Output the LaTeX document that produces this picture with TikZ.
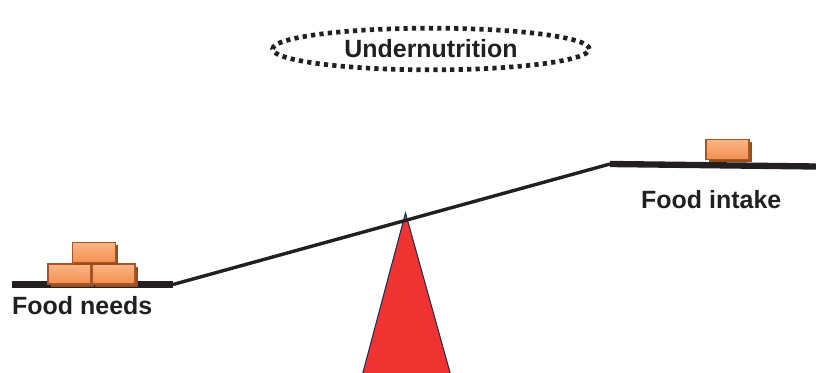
\documentclass[tikz,border=0pt]{standalone}
\usepackage{fontspec}
\setmainfont{Liberation Sans}
\definecolor{brickfill}{RGB}{243,143,80}
\definecolor{brickhi}{RGB}{250,182,134}
\definecolor{brickedge}{RGB}{168,84,36}
\definecolor{brickshade}{RGB}{150,78,30}
\definecolor{fulcrum}{RGB}{238,51,48}
\definecolor{fulcrumedge}{RGB}{28,48,92}
\definecolor{ink}{RGB}{35,31,32}
\usetikzlibrary{shapes.geometric,shadows,positioning}

\tikzset{
  brick/.style={draw=brickedge,line width=1pt,top color=brickhi,bottom color=brickfill,
    minimum width=1.29cm,minimum height=0.6cm,inner sep=0pt,outer sep=0pt,
    general shadow={fill=brickshade,shadow xshift=2.2pt,shadow yshift=-2.2pt}},
  caption/.style={font=\bfseries\fontsize{21.3}{25}\selectfont,text=ink,inner sep=0pt},
}

\begin{document}
\begin{tikzpicture}[x=0.03cm,y=-0.03cm]
  \useasboundingbox (0,0) rectangle (816,373);
  % fulcrum
  \coordinate (apex) at (405.5,213);
  \coordinate (baseL) at (362,376);
  \coordinate (baseR) at (451,376);
  \filldraw[fill=fulcrum,draw=fulcrumedge,line width=0.9pt] (apex) -- (baseL) -- (baseR) -- cycle;
  % beam
  \coordinate (needsL) at (12,284.5);
  \coordinate (needsR) at (173,284.5);
  \coordinate (intakeL) at (610,164);
  \coordinate (intakeR) at (816,166.5);
  \draw[ink,line width=5.4pt] (needsL) -- (needsR);
  \draw[ink,line width=2.9pt] (needsR) -- (intakeL);
  \draw[ink,line width=5.4pt] (intakeL) -- (intakeR);
  % bricks
  \node[brick] (needsA) at (69.5,274) {};
  \node[brick] (needsB) at (113.5,274) {};
  \node[brick] (needsC) at (94,252.5) {};
  \node[brick] (intakeA) at (727.5,149.5) {};
  % labels
  \node[caption,anchor=base west] (needs) at (12,314) {Food needs};
  \node[caption,anchor=base west] (intake) at (641,209) {Food intake};
  \node[ellipse,draw=ink,line width=4pt,dash pattern=on 3.6pt off 3.6pt,
    minimum width=9.5cm,minimum height=1.25cm,caption] (under) at (431,49) {Undernutrition};
\end{tikzpicture}
\end{document}
